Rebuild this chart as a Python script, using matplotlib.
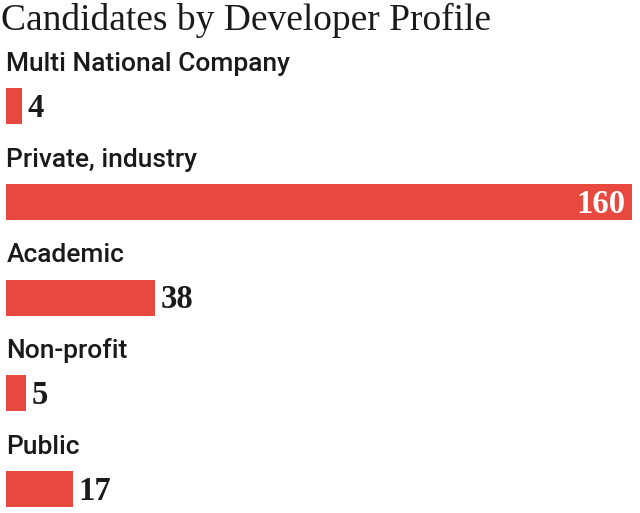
import matplotlib
matplotlib.use("Agg")
import matplotlib.pyplot as plt

title = "Candidates by Developer Profile"
categories = ["Multi National Company", "Private, industry", "Academic", "Non-profit", "Public"]
values = [4, 160, 38, 5, 17]

W, H = 640, 513
fig = plt.figure(figsize=(W / 100, H / 100), dpi=100)
fig.patch.set_facecolor("white")

ax = fig.add_axes([6 / W, 0, (632 - 6) / W, 1])
ax.set_xlim(0, max(values))
spacing = 95.75
c0 = 106
ax.set_ylim((H - c0) / spacing, (0 - c0) / spacing)
ax.axis("off")

bar_color = "#E8493F"
text_color = "#1a1a1a"
pos = list(range(len(categories)))
ax.barh(pos, values, height=36 / spacing, color=bar_color, edgecolor="none")

for i, (cat, v) in enumerate(zip(categories, values)):
    ax.annotate(cat, xy=(0, i - 35 / spacing), xytext=(0.3, 0), textcoords="offset points",
                ha="left", va="baseline", fontsize=19, family="Roboto", weight="medium",
                color=text_color)
    if v == max(values):
        ax.annotate(str(v), xy=(v, i + 11 / spacing), xytext=(-4.5, 0), textcoords="offset points",
                    ha="right", va="baseline", fontsize=23.5, family="Liberation Serif",
                    weight="bold", color="white")
    else:
        ax.annotate(str(v), xy=(v, i + 11 / spacing), xytext=(4.5, 0), textcoords="offset points",
                    ha="left", va="baseline", fontsize=23.5, family="Liberation Serif",
                    weight="bold", color=text_color)

fig.text(1 / W, 1 - 30 / H, title, ha="left", va="baseline", fontsize=27,
         family="Liberation Serif", color=text_color)

fig.savefig("out.png", dpi=100, facecolor="white")
